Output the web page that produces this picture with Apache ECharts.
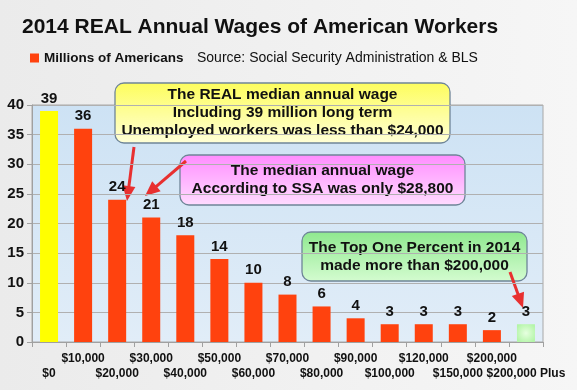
<!DOCTYPE html>
<html><head><meta charset="utf-8">
<script src="https://cdn.jsdelivr.net/npm/echarts@6/dist/echarts.min.js"></script>
<style>html,body{margin:0;padding:0;background:#f0f0f0}#c{width:577px;height:390px}</style>
</head><body><div id="c"></div>
<script>
const categories = ['$0','$10,000','$20,000','$30,000','$40,000','$50,000','$60,000','$70,000','$80,000','$90,000','$100,000','$120,000','$150,000','$200,000','$200,000 Plus'];
const values = [39,36,24,21,18,14,10,8,6,4,3,3,3,2,3];
const yMin = 0, yMax = 40, yStep = 5;
const seriesName = 'Millions of Americans';
const titleText = '2014 REAL Annual Wages of American Workers';
const sourceText = 'Source: Social Security Administration & BLS';
const notes = [
  ['The REAL median annual wage','Including 39 million long term','Unemployed workers was less than $24,000'],
  ['The median annual wage','According to SSA was only $28,800'],
  ['The Top One Percent in 2014','made more than $200,000']
];

const FONT = '"Liberation Sans", Arial, sans-serif';
const chart = echarts.init(document.getElementById('c'));

function lg(a, b, vertical) {
  return new echarts.graphic.LinearGradient(0, 0, vertical ? 0 : 1, vertical ? 1 : 0, [{offset:0,color:a},{offset:1,color:b}]);
}

function box(x, y, w, h, c1, c2, lines, fs, lh) {
  const children = [{
    type: 'rect', shape: {x: 0, y: 0, width: w, height: h, r: 9},
    style: {fill: lg(c1, c2, true), stroke: '#6f8598', lineWidth: 1.3}
  }];
  const top = h / 2 - (lines.length - 1) * lh / 2;
  lines.forEach((t, i) => children.push({
    type: 'text', x: w / 2, y: top + i * lh,
    style: {text: t, fill: '#111', font: 'bold ' + fs + 'px ' + FONT, textAlign: 'center', textVerticalAlign: 'middle'}
  }));
  return {type: 'group', x: x, y: y, children: children};
}

function arrow(x1, y1, x2, y2) {
  const dx = x2 - x1, dy = y2 - y1, L = Math.sqrt(dx*dx + dy*dy);
  const ux = dx / L, uy = dy / L, px = -uy, py = ux;
  const hl = 15, hw = 6.5;
  const bx = x2 - ux * hl, by = y2 - uy * hl;
  return {type: 'group', children: [
    {type: 'line', shape: {x1: x1, y1: y1, x2: bx + ux*2, y2: by + uy*2}, style: {stroke: '#e83030', lineWidth: 3}},
    {type: 'polygon', shape: {points: [[x2, y2], [bx + px*hw, by + py*hw], [bx - px*hw, by - py*hw]]}, style: {fill: '#e83030'}}
  ]};
}

const option = {
  backgroundColor: lg('#ebebeb', '#f6f6f6', false),
  textStyle: {fontFamily: FONT},
  animation: false,
  title: [
    {text: titleText, left: 22, top: 17, padding: 0, textStyle: {fontSize: 21, fontWeight: 'bold', color: '#111', fontFamily: FONT}},
    {text: sourceText, left: 197, top: 51, padding: 0, textStyle: {fontSize: 14, fontWeight: 'normal', color: '#111', fontFamily: FONT}}
  ],
  legend: {
    data: [seriesName], left: 30, top: 51, padding: 0, icon: 'rect', itemWidth: 9, itemHeight: 9,
    textStyle: {fontSize: 13.5, fontWeight: 'bold', color: '#111', fontFamily: FONT}
  },
  grid: {left: 32, right: 34, top: 105, bottom: 48, show: true,
    backgroundColor: lg('#cde2f4', '#e1edf8', true), borderColor: '#a8a8a8', borderWidth: 1},
  xAxis: {
    type: 'category', data: categories,
    axisLine: {lineStyle: {color: '#a0a0a0', width: 1}},
    axisTick: {show: true, interval: 0, length: 5, lineStyle: {color: '#a0a0a0'}},
    axisLabel: {interval: 0, margin: 9, fontSize: 12, fontWeight: 'bold', color: '#111', lineHeight: 15, fontFamily: FONT,
      formatter: (v, i) => (i % 2 === 0 ? '\n' + v : v)}
  },
  yAxis: {
    type: 'value', min: yMin, max: yMax, interval: yStep,
    axisLine: {show: true, lineStyle: {color: '#a0a0a0'}},
    axisTick: {show: true, length: 5, lineStyle: {color: '#a0a0a0'}},
    splitLine: {lineStyle: {color: '#b0b0b0', width: 1}},
    axisLabel: {fontSize: 15, fontWeight: 'bold', color: '#111', margin: 8, fontFamily: FONT}
  },
  series: [{
    name: seriesName, type: 'bar', barWidth: 18, itemStyle: {color: '#ff420e'},
    data: values.map((v, i) => {
      if (i === 0) return {value: v, itemStyle: {color: '#ffff00'}};
      if (i === values.length - 1) return {value: v, itemStyle: {color: new echarts.graphic.RadialGradient(0.5, 0.5, 0.6, [{offset:0,color:'#e6ffe0'},{offset:1,color:'#b4f5a8'}])}};
      return v;
    }),
    label: {show: true, position: 'top', distance: 5, fontSize: 15, fontWeight: 'bold', color: '#111', fontFamily: FONT}
  }],
  graphic: [
    box(115, 83, 335, 60, '#fdfd5c', '#ffffd8', notes[0], 15.5, 18),
    box(180, 155, 285, 50, '#ff8cff', '#ffdcff', notes[1], 15.5, 18),
    box(302, 232, 225, 49, '#8ee88e', '#d4fcd0', notes[2], 15.5, 17.5),
    arrow(134, 147, 127, 201),
    arrow(186, 161, 145, 196),
    arrow(510, 272, 523, 308)
  ]
};
chart.setOption(option);
</script></body></html>
